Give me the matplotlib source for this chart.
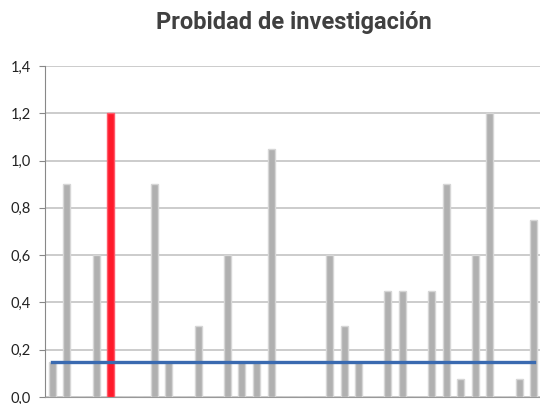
import matplotlib
matplotlib.use("Agg")
import matplotlib.pyplot as plt
import numpy as np

# data (empty slots are zero)
valores = [0.15, 0.9, 0, 0.6, 1.2, 0, 0, 0.9, 0.15, 0, 0.3, 0, 0.6, 0.15, 0.15,
           1.05, 0, 0, 0, 0.6, 0.3, 0.15, 0, 0.45, 0.45, 0, 0.45, 0.9, 0.075,
           0.6, 1.2, 0, 0.075, 0.75]
destacado = 4          # the red bar
umbral = 0.15          # blue reference line
yticks = [0.0, 0.2, 0.4, 0.6, 0.8, 1.0, 1.2, 1.4]
titulo = "Probidad de investigación"

x = np.arange(len(valores))
colores = ["#b0b0b0"] * len(valores)
bordes = ["#d6d6d6"] * len(valores)
colores[destacado] = "#ff1a2a"
bordes[destacado] = "#ff5a6a"

fig = plt.figure(figsize=(5.4, 4.04), dpi=100)
ax = fig.add_axes([0.0833, 0.0173, 0.9185, 0.8193])

ax.bar(x, valores, width=0.48, color=colores, edgecolor=bordes, linewidth=1.0, zorder=3)
ax.plot([x[0], x[-1]], [umbral, umbral], color="#3a6ab0", lw=2.4, zorder=4)

ax.set_xlim(-0.5, len(valores) - 0.5)
ax.set_ylim(0, 1.4)
ax.set_yticks(yticks)
ax.set_yticklabels([f"{v:.1f}".replace(".", ",") for v in yticks],
                   fontsize=10.5, color="#222222", family="Lato")
ax.set_xticks([])
ax.tick_params(axis="y", length=4, color="#888888", pad=6)
ax.grid(axis="y", color="#c4c4c4", lw=1.2, zorder=0)

for s in ["top", "right"]:
    ax.spines[s].set_visible(False)
ax.spines["left"].set_color("#888888")
ax.spines["bottom"].set_color("#999999")

fig.text(0.544, 0.945, titulo, ha="center", va="center", fontsize=17,
         fontweight="bold", color="#404040", family="Roboto")

fig.savefig("out.png", dpi=100)
